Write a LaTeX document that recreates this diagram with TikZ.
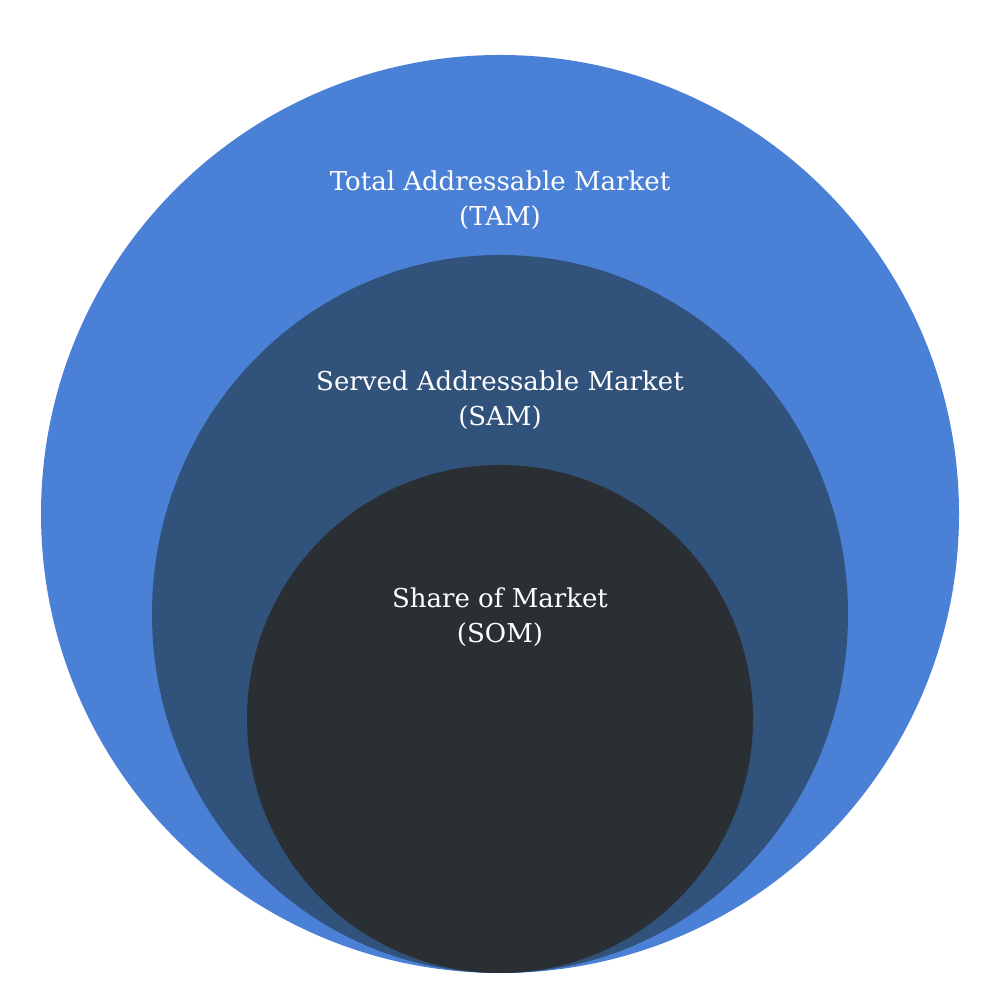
\documentclass[tikz,border=0pt]{standalone}
\usepackage{fontspec}
\setmainfont{DejaVu Serif}
\definecolor{tamblue}{HTML}{4A80D6}
\definecolor{samblue}{HTML}{31527A}
\definecolor{somdark}{HTML}{2A2F33}
\tikzset{
  marketlabel/.style = {text = white, align = center, font = \fontsize{7.4}{10}\selectfont}
}
\begin{document}
\begin{tikzpicture}
    \useasboundingbox[fill = white] (0, 0) rectangle (10, 10);
    \fill[tamblue] (5, 4.86) circle (4.59);
    \fill[samblue] (5, 3.86) ellipse (3.48 and 3.59);
    \fill[somdark] (5, 2.81) ellipse (2.53 and 2.54);
    \node[marketlabel] (tam) at (5, 8.00) {Total Addressable Market\\(TAM)};
    \node[marketlabel] (sam) at (5, 6.00) {Served Addressable Market\\(SAM)};
    \node[marketlabel] (som) at (5, 3.83) {Share of Market\\(SOM)};
  \end{tikzpicture}
\end{document}
